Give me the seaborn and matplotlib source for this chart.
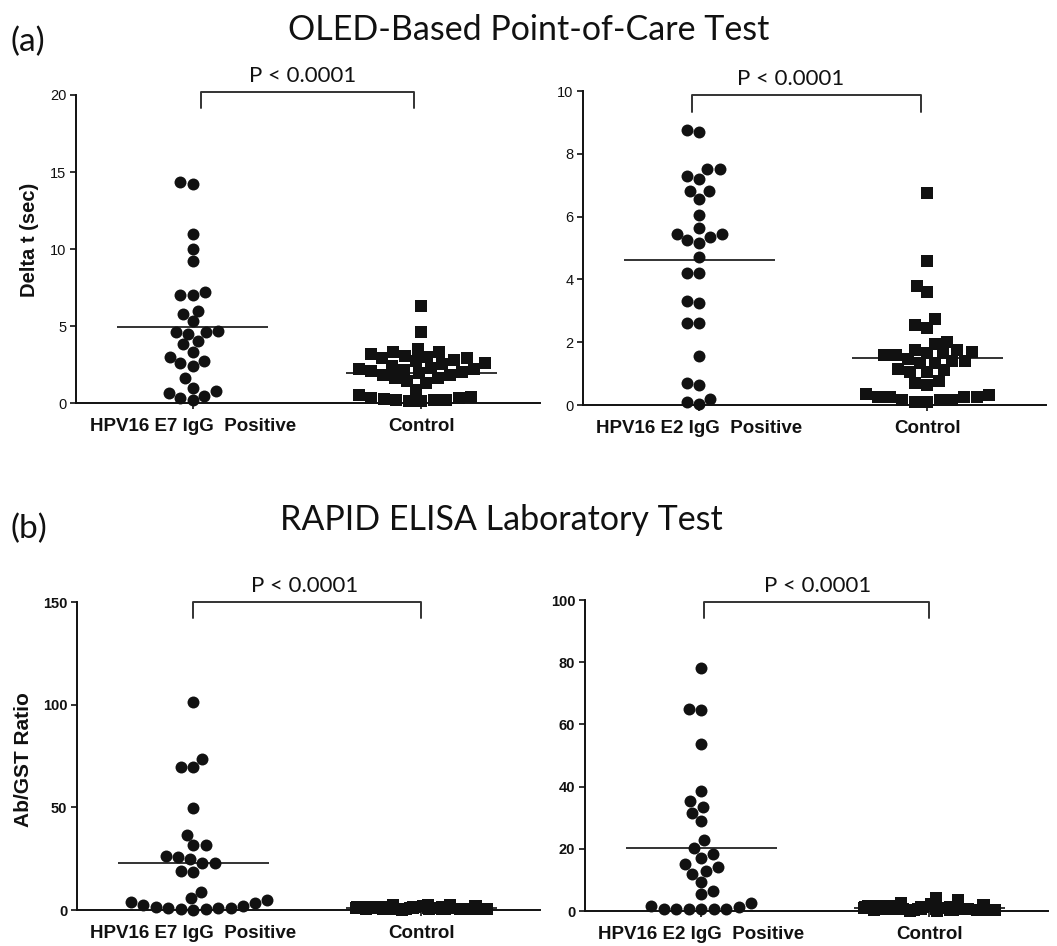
import numpy as np
import pandas as pd
import matplotlib
matplotlib.use("Agg")
import matplotlib.pyplot as plt
import seaborn as sns

# ---------------- data ----------------
categories_e7 = ["HPV16 E7 IgG  Positive", "Control"]
categories_e2 = ["HPV16 E2 IgG  Positive", "Control"]

# (a) OLED-based point-of-care test, Delta t (sec)
oled_e7_positive = [14.2, 14.35, 11.0, 10.0, 9.2, 7.0, 7.0, 7.2, 6.0, 5.8, 5.3,
                    4.7, 4.6, 4.5, 4.6, 4.0, 3.8, 3.3, 3.0, 2.6, 2.7, 2.4, 1.6,
                    0.8, 1.0, 0.65, 0.45, 0.2, 0.3]
oled_e7_control = [6.3, 4.6, 3.5,
                   3.3, 3.3, 3.2, 3.05, 3.0, 2.9, 2.9, 2.8, 2.7, 2.6, 2.55, 2.4,
                   2.25, 2.2, 2.2, 2.15, 2.1, 2.0, 1.95, 1.8, 1.8, 1.6, 1.6, 1.4, 1.3,
                   0.85, 0.55, 0.4, 0.35, 0.3, 0.25, 0.2, 0.2, 0.2, 0.15, 0.15]
oled_e2_positive = [8.75, 8.7, 7.5, 7.5, 7.2, 7.3, 6.8, 6.8, 6.55, 6.05, 5.45,
                    5.35, 5.45, 5.65, 5.25, 5.15, 4.7, 4.2, 4.2, 3.25, 3.3, 2.6,
                    2.6, 1.55, 0.7, 0.65, 0.2, 0.1, 0.02]
oled_e2_control = [6.75, 4.6, 3.8, 3.6, 2.75, 2.45, 2.55, 2.0, 1.95,
                   1.75, 1.65, 1.6, 1.45, 1.4, 1.35, 1.35, 1.4, 1.6, 1.65, 1.7, 1.75,
                   1.1, 1.05, 1.05, 1.15, 0.7, 0.65, 0.75,
                   0.35, 0.25, 0.25, 0.15, 0.15, 0.08, 0.1, 0.15, 0.25, 0.27, 0.33]

# (b) RAPID ELISA laboratory test, Ab/GST ratio
elisa_e7_positive = [101.3, 69.4, 69.4, 73.6, 49.9, 36.6, 31.5, 31.5, 26.3, 24.7,
                     22.8, 22.8, 26.0, 18.7, 19.2, 8.9, 5.7, 4.1, 2.4, 1.6, 1.1,
                     0.3, 0.0, 0.3, 0.8, 1.1, 2.0, 3.3, 4.9]
elisa_e7_control = [2.6, 2.4, 2.2, 2.0, 1.9, 1.8, 1.7, 1.6, 1.5, 1.5, 1.4, 1.3,
                    1.3, 1.2, 1.2, 1.1, 1.1, 1.0, 1.0, 0.9, 0.9, 0.9, 0.8, 0.8,
                    0.8, 0.7, 0.7, 0.7, 0.6, 0.6, 0.6, 0.5, 0.5, 0.5, 0.4, 0.4,
                    0.3, 0.3, 0.2]
elisa_e2_positive = [78.0, 64.8, 64.6, 53.6, 38.6, 35.3, 33.5, 31.5, 29.0, 22.7,
                     20.3, 18.2, 17.2, 15.2, 14.2, 12.0, 12.8, 9.3, 6.4, 5.4,
                     2.6, 1.3, 0.75, 0.5, 0.5, 0.75, 0.75, 0.75, 1.5]
elisa_e2_control = [4.2, 3.5, 2.6, 2.2, 2.0, 1.8, 1.7, 1.6, 1.5, 1.4, 1.3, 1.2,
                    1.2, 1.1, 1.0, 1.0, 0.9, 0.9, 0.8, 0.8, 0.7, 0.7, 0.7, 0.6,
                    0.6, 0.5, 0.5, 0.5, 0.4, 0.4, 0.4, 0.3, 0.3, 0.3, 0.2, 0.2,
                    0.2, 0.1, 0.1]

yticks_oled_e7 = [0, 5, 10, 15, 20]
yticks_oled_e2 = [0, 2, 4, 6, 8, 10]
yticks_elisa_e7 = [0, 50, 100, 150]
yticks_elisa_e2 = [0, 20, 40, 60, 80, 100]

p_label = "P < 0.0001"
title_a = "OLED-Based Point-of-Care Test"
title_b = "RAPID ELISA Laboratory Test"
ylabel_a = "Delta t (sec)"
ylabel_b = "Ab/GST Ratio"

# ---------------- style ----------------
sns.set_theme(style="white")
plt.rcParams["font.family"] = ["Liberation Sans", "DejaVu Sans"]
TITLE_FONT = ["Lato", "DejaVu Sans"]
INK = "#111111"
LINE = "#333333"

W, H = 1057, 946
fig = plt.figure(figsize=(W / 100, H / 100), dpi=100)


def rect(x0, x1, ytop, ybot):
    return [x0 / W, 1 - ybot / H, (x1 - x0) / W, (ybot - ytop) / H]


ax_tl = fig.add_axes(rect(76, 540, 95, 403))
ax_tr = fig.add_axes(rect(583, 1046, 91, 405))
ax_bl = fig.add_axes(rect(77, 540, 602, 910))
ax_br = fig.add_axes(rect(585, 1048, 600, 911))

MS = 8.6


def panel(ax, cats, pos, ctrl, yticks, bold_ticks, ctrl_swarm,
          bx0, bx1, btop, bleg, px):
    df_pos = pd.DataFrame({"group": cats[0], "value": pos})
    df_ctrl = pd.DataFrame({"group": cats[1], "value": ctrl})
    sns.swarmplot(data=df_pos, x="group", y="value", order=cats, color=INK,
                  size=MS, marker="o", linewidth=0, clip_on=False, ax=ax,
                  zorder=3)
    if ctrl_swarm:
        sns.swarmplot(data=df_ctrl, x="group", y="value", order=cats,
                      color=INK, size=MS, marker="s", linewidth=0,
                      clip_on=False, ax=ax, zorder=3)
    else:
        np.random.seed(3)
        sns.stripplot(data=df_ctrl, x="group", y="value", order=cats,
                      color=INK, size=MS, marker="s", linewidth=0,
                      jitter=0.3, clip_on=False, ax=ax, zorder=3)
    # mean lines
    for i, vals in enumerate([pos, ctrl]):
        ax.hlines(np.mean(vals), i - 0.33, i + 0.33, color=LINE, lw=1.4,
                  zorder=2)
    ax.set_xlim(-0.51, 1.52)
    ax.set_ylim(yticks[0], yticks[-1])
    ax.set_yticks(yticks)
    ax.set_yticklabels([str(t) for t in yticks],
                       fontsize=10.5, fontweight="bold" if bold_ticks else "normal")
    ax.set_xticks([0, 1])
    ax.set_xticklabels(cats, fontsize=13.5, fontweight="bold")
    ax.set_xlabel("")
    ax.set_ylabel("")
    sns.despine(ax=ax)
    for s in ("left", "bottom"):
        ax.spines[s].set_color(INK)
        ax.spines[s].set_linewidth(1.4)
    ax.tick_params(axis="y", length=4, width=1.2, color=INK, pad=3,
                   left=True, labelcolor=INK)
    ax.tick_params(axis="x", length=4, width=1.2, color=INK, pad=7,
                   bottom=True, labelcolor=INK)
    # significance bracket
    ax.plot([bx0, bx0, bx1, bx1], [bleg, btop, btop, bleg], color=LINE,
            lw=1.4, clip_on=False, zorder=4)
    ax.annotate(p_label, xy=(px, btop), xytext=(0, 7),
                textcoords="offset points", ha="center", va="baseline",
                fontsize=16, family=TITLE_FONT, color=INK,
                annotation_clip=False)


panel(ax_tl, categories_e7, oled_e7_positive, oled_e7_control,
      yticks_oled_e7, False, True, 0.035, 0.97, 20.2, 19.15, 0.48)
panel(ax_tr, categories_e2, oled_e2_positive, oled_e2_control,
      yticks_oled_e2, False, True, -0.03, 0.97, 9.87, 9.33, 0.40)
panel(ax_bl, categories_e7, elisa_e7_positive, elisa_e7_control,
      yticks_elisa_e7, True, False, 0.0, 1.0, 150, 142, 0.49)
panel(ax_br, categories_e2, elisa_e2_positive, elisa_e2_control,
      yticks_elisa_e2, True, False, 0.01, 1.0, 99.4, 94.2, 0.51)

ax_tl.set_ylabel(ylabel_a, fontsize=14.5, fontweight="bold", color=INK)
ax_tl.yaxis.set_label_coords(-0.080, 0.53)
ax_bl.set_ylabel(ylabel_b, fontsize=15, fontweight="bold", color=INK)
ax_bl.yaxis.set_label_coords(-0.095, 0.49)

# section headings
fig.text(10 / W, 1 - 51 / H, "(a)", fontsize=24, family=TITLE_FONT,
         color=INK, ha="left", va="baseline")
fig.text(288 / W, 1 - 40 / H, title_a, fontsize=24.5, family=TITLE_FONT,
         color=INK, ha="left", va="baseline")
fig.text(10 / W, 1 - 538 / H, "(b)", fontsize=24, family=TITLE_FONT,
         color=INK, ha="left", va="baseline")
fig.text(280 / W, 1 - 530 / H, title_b, fontsize=24.5, family=TITLE_FONT,
         color=INK, ha="left", va="baseline")

fig.savefig("out.png", dpi=100, facecolor="white")
